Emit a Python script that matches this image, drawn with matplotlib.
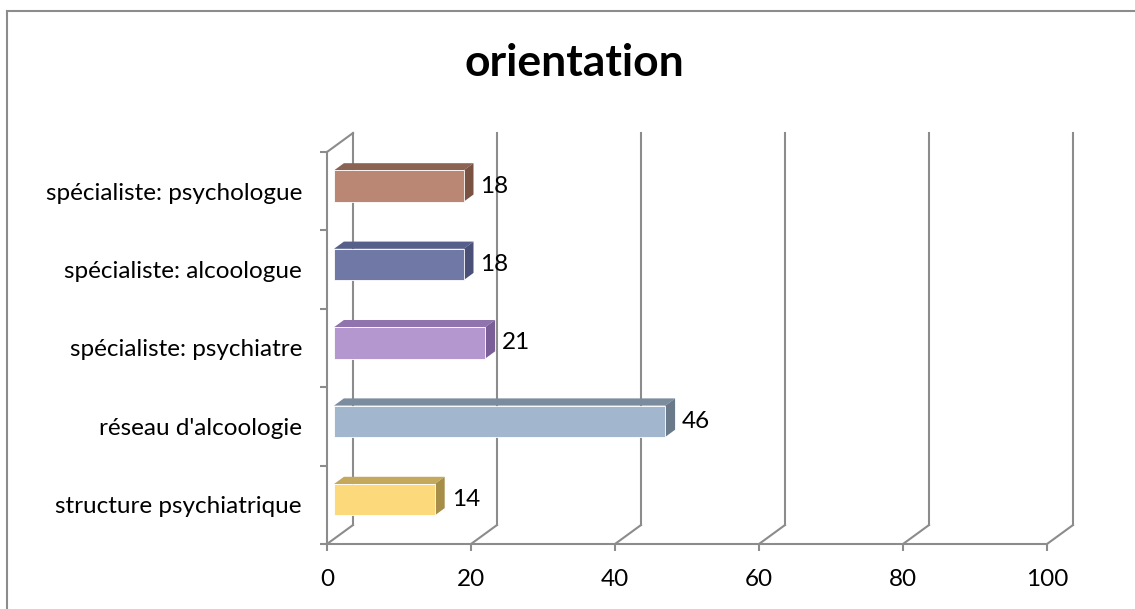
import matplotlib.pyplot as plt
from matplotlib.patches import Polygon
from matplotlib.lines import Line2D

plt.rcParams['font.family'] = ['Lato', 'DejaVu Sans']

categories = ["structure psychiatrique", "réseau d'alcoologie", "spécialiste: psychiatre",
              "spécialiste: alcoologue", "spécialiste: psychologue"]
values = [14, 46, 21, 18, 18]
x_ticks = [0, 20, 40, 60, 80, 100]

front_colors = ["#FCD97A", "#A2B7CE", "#B497CF", "#7078A6", "#B98774"]
top_colors = ["#C4A85C", "#7A8C9E", "#9074AE", "#565E8A", "#8C6253"]
side_colors = ["#A68E48", "#6A7A8A", "#7A5E98", "#4A5078", "#7A5242"]

GRID = "#8C8C8C"
DX, DY = 3.61, 0.242      # depth offset of the back wall (data units)
A, B = 0.27, 0.65         # bar front / back depth fractions
GAP = 0.30
FS = 17.5

W, H = 1135, 609
fig = plt.figure(figsize=(W / 100, H / 100), dpi=100)
ax = fig.add_axes([327 / W, 1 - 544 / H, 720 / W, 392 / H])
ax.set_xlim(0, 100)
ax.set_ylim(0, len(categories))

# chart border (left and top only visible)
fig.add_artist(Line2D([7 / W, 7 / W], [0, 1 - 11 / H], color=GRID, lw=1.5))
fig.add_artist(Line2D([7 / W, 1], [1 - 11 / H, 1 - 11 / H], color=GRID, lw=1.5))

# back wall gridlines and floor diagonals
top = len(categories)
for v in x_ticks:
    ax.plot([v + DX, v + DX], [DY, top + DY], color=GRID, lw=1.5, clip_on=False, zorder=1)
    ax.plot([v, v + DX], [0, DY], color=GRID, lw=1.5, clip_on=False, zorder=1)
ax.plot([0, DX], [top, top + DY], color=GRID, lw=1.5, clip_on=False, zorder=1)

# 3d bars
for i, (val, fc, tc, sc) in enumerate(zip(values, front_colors, top_colors, side_colors)):
    x0 = A * DX
    x1 = val + A * DX
    y0 = i + GAP + A * DY
    y1 = i + 1 - GAP + A * DY
    ddx = (B - A) * DX
    ddy = (B - A) * DY
    ax.add_patch(Polygon([(x0, y1), (x1, y1), (x1 + ddx, y1 + ddy), (x0 + ddx, y1 + ddy)],
                         closed=True, facecolor=tc, edgecolor="none", zorder=3, clip_on=False))
    ax.add_patch(Polygon([(x1, y0), (x1 + ddx, y0 + ddy), (x1 + ddx, y1 + ddy), (x1, y1)],
                         closed=True, facecolor=sc, edgecolor="none", zorder=3, clip_on=False))
    ax.add_patch(Polygon([(x0, y0), (x1, y0), (x1, y1), (x0, y1)],
                         closed=True, facecolor=fc, edgecolor="#FFFFFF", lw=0.6, zorder=4, clip_on=False))
    ax.text(val + 3.3, (y0 + y1) / 2, str(val), ha="left", va="center", fontsize=FS, zorder=5)

# front axes
for s in ["top", "right"]:
    ax.spines[s].set_visible(False)
for s in ["left", "bottom"]:
    ax.spines[s].set_color(GRID)
    ax.spines[s].set_linewidth(1.5)
ax.set_xticks(x_ticks)
ax.set_xticklabels([str(t) for t in x_ticks], fontsize=FS)
ax.set_yticks(range(len(categories) + 1))
ax.set_yticklabels([])
ax.set_yticks([i + 0.5 for i in range(len(categories))], minor=True)
ax.set_yticklabels(categories, minor=True, fontsize=FS)
ax.tick_params(axis="both", which="major", color=GRID, width=1.5, length=5)
ax.tick_params(axis="x", pad=13)
ax.tick_params(axis="y", which="minor", length=0, pad=18)
ax.patch.set_alpha(0)

fig.text(574 / W, 1 - 63 / H, "orientation", ha="center", va="center",
         fontsize=32, fontweight="bold")

fig.savefig("out.png", dpi=100)
